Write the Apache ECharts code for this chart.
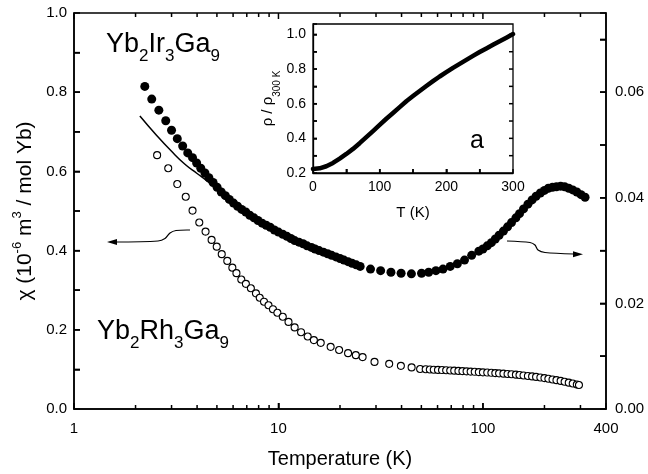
<!DOCTYPE html>
<html><head><meta charset="utf-8">
<script src="https://cdn.jsdelivr.net/npm/echarts@6/dist/echarts.min.js"></script>
<style>html,body{margin:0;padding:0;background:#fff}#c{width:648px;height:474px}</style>
</head><body><div id="c"></div>
<script>
// Yb2Ir3Ga9 (filled circles, right axis)
const irT = [2.22,2.40,2.60,2.81,3.00,3.20,3.40,3.60,
  3.80,3.98,4.17,4.37,4.57,4.79,5.01,5.25,5.50,5.75,6.03,6.31,6.61,6.92,7.24,7.59,7.94,8.32,8.71,9.12,9.55,10.0,10.5,11.0,11.5,12.0,12.6,13.2,13.8,14.5,15.1,15.8,16.6,17.4,18.2,19.1,20.0,20.9,21.9,22.9,24.0,25.1,
  28.2,31.6,35.5,39.8,44.7,50.1,
  54.3,58.9,63.8,69.2,75.0,81.3,88.1,95.5,
  100,105,110,115,120,126,132,138,145,151,158,166,174,182,191,200,209,219,229,240,251,263,275,288,302,316];
const irChi = [0.0611,0.0587,0.0566,0.0546,0.0528,0.0512,0.0498,0.0485,
  0.0476,0.0466,0.0456,0.0447,0.0438,0.0429,0.0420,0.0411,0.0404,0.0397,0.0390,0.0384,0.0378,0.0373,0.0367,0.0362,0.0357,0.0352,0.0348,0.0344,0.0339,0.0335,0.0331,0.0327,0.0323,0.0319,0.0316,0.0313,0.0309,0.0306,0.0303,0.0300,0.0297,0.0294,0.0291,0.0288,0.0285,0.0282,0.0279,0.0276,0.0273,0.0270,
  0.0265,0.0262,0.0259,0.0257,0.0256,0.0257,
  0.0259,0.0262,0.0265,0.0270,0.0275,0.0282,0.0291,0.0299,
  0.0303,0.0309,0.0315,0.0322,0.0329,0.0337,0.0345,0.0353,0.0362,0.0370,0.0379,0.0388,0.0396,0.0403,0.0409,0.0414,0.0418,0.0420,0.0421,0.0422,0.0421,0.0418,0.0415,0.0411,0.0406,0.0401];
// fit line at low T (right axis)
const fitT = [2.1,2.5,3.0,3.5,4.0,4.5,5.2];
const fitChi = [0.0555,0.0521,0.0488,0.0463,0.0446,0.0431,0.0411];
// Yb2Rh3Ga9 (open circles, left axis)
const rhT = [2.55,2.89,3.20,3.52,3.80,4.10,4.40,4.71,4.99,5.28,5.62,5.95,6.23,6.58,6.93,7.33,7.76,8.10,8.50,8.94,9.40,9.88,10.5,11.2,12.0,12.9,13.9,14.9,16.1,18.0,19.8,21.9,23.9,25.8,29.5,34.8,39.7,44.8,49.3,
  52.5,55.0,57.5,60.3,63.1,66.1,69.2,72.4,75.9,79.4,83.2,87.1,91.2,95.5,100,105,110,115,120,126,132,138,145,151,158,166,174,182,191,200,209,219,229,240,251,263,275,288,295];
const rhChi = [0.641,0.608,0.568,0.536,0.501,0.471,0.448,0.427,0.410,0.391,0.374,0.357,0.343,0.327,0.316,0.305,0.292,0.281,0.271,0.262,0.252,0.243,0.233,0.220,0.206,0.194,0.183,0.174,0.167,0.157,0.149,0.141,0.136,0.131,0.119,0.114,0.109,0.105,0.101,
  0.1003,0.0998,0.0993,0.0988,0.0983,0.0978,0.0973,0.0968,0.0962,0.0957,0.0951,0.0945,0.0939,0.0932,0.0926,0.0920,0.0914,0.0907,0.0900,0.0893,0.0885,0.0877,0.0868,0.0859,0.0847,0.0835,0.0823,0.0810,0.0797,0.0780,0.0763,0.0746,0.0728,0.0709,0.0688,0.0666,0.0643,0.0619,0.0606];
// inset: resistivity ratio
const rhoT = [0,10,20,30,40,50,60,70,80,90,100,110,120,130,140,150,160,170,180,190,200,210,220,230,240,250,260,270,280,290,300];
const rhoRatio = [0.223,0.227,0.239,0.258,0.283,0.310,0.339,0.372,0.407,0.442,0.478,0.513,0.546,0.580,0.614,0.644,0.673,0.702,0.730,0.757,0.782,0.807,0.830,0.853,0.876,0.898,0.919,0.940,0.960,0.981,1.002];
// tick values
const xTickLabels = [1,10,100,400];
const xMajorTicks = [1,10,100];
const xMinorTicks = [2,3,4,5,6,7,8,9,20,30,40,50,60,70,80,90,200,300];
const leftTicks = [0.1,0.2,0.3,0.4,0.5,0.6,0.7,0.8,0.9];
const rightTicks = [0.01,0.02,0.03,0.04,0.05,0.06,0.07];
const insXTicks = [50,100,150,200,250];
const insYTicks = [0.3,0.4,0.5,0.6,0.7,0.8,0.9,1.0];

const FONT = 'Liberation Sans, Arial, Helvetica, sans-serif';
const zip = (a,b) => a.map((v,i)=>[v,b[i]]);
function evenLabel(step, digits){
  return v => { const q = v/step; const k = Math.round(q);
    return (Math.abs(q-k)<1e-6 && k%2===0) ? (k*step).toFixed(digits) : ''; };
}
const lbl = {color:'#000', fontSize:15, fontFamily:FONT};
const X_MIN = 1, X_MAX = 400, L_MIN = 0, L_MAX = 1, R_MIN = 0, R_MAX = 0.075;
const IX_MIN = 0, IX_MAX = 300, IY_MIN = 0.2, IY_MAX = 1.06;
const TW = 1.5;
const inTick = (len) => ({show:true, inside:true, length:len, lineStyle:{color:'#000', width:TW}});

const chart = echarts.init(document.getElementById('c'));
chart.setOption({
  animation:false,
  grid:[
    {left:74, top:13, width:532, height:396, show:true, borderColor:'#000', borderWidth:1.5, backgroundColor:'transparent'},
    {left:313, top:24, width:200, height:149, show:true, borderColor:'#000', borderWidth:1.3, backgroundColor:'#fff'}
  ],
  xAxis:[
    {gridIndex:0, type:'log', logBase:10, min:X_MIN, max:X_MAX,
     axisLine:{show:true, lineStyle:{color:'#000', width:1.5}}, splitLine:{show:false},
     axisTick:inTick(6),
     axisLabel:Object.assign({margin:12, customValues:xTickLabels, formatter:v=>String(Math.round(v))}, lbl),
     name:'Temperature (K)', nameLocation:'middle', nameGap:40,
     nameTextStyle:{color:'#000', fontSize:20, fontFamily:FONT}},
    {gridIndex:1, type:'value', min:IX_MIN, max:IX_MAX, interval:50,
     axisLine:{show:true, lineStyle:{color:'#000', width:1.3}}, splitLine:{show:false},
     axisTick:inTick(4),
     axisLabel:Object.assign({margin:7, formatter:evenLabel(50,0)}, lbl, {fontSize:14}),
     name:'T (K)', nameLocation:'middle', nameGap:32,
     nameTextStyle:{color:'#000', fontSize:15, fontFamily:FONT}}
  ],
  yAxis:[
    {gridIndex:0, type:'value', min:L_MIN, max:L_MAX, interval:0.1, position:'left',
     axisLine:{show:true, lineStyle:{color:'#000', width:1.5}}, splitLine:{show:false},
     axisTick:inTick(6),
     axisLabel:Object.assign({margin:7, formatter:evenLabel(0.1,1)}, lbl),
     name:'{n|χ (10}{sup|-6}{n| m}{sup|3}{n| / mol Yb)}', nameLocation:'middle', nameGap:37,
     nameTextStyle:{color:'#000', fontFamily:FONT, fontSize:21,
       rich:{n:{fontSize:21, fontFamily:FONT, color:'#000', lineHeight:24, verticalAlign:'bottom'},
             sup:{fontSize:13, fontFamily:FONT, color:'#000', lineHeight:13, verticalAlign:'top'}}}},
    {gridIndex:0, type:'value', min:R_MIN, max:R_MAX, interval:0.01, position:'right',
     axisLine:{show:true, lineStyle:{color:'#000', width:1.5}}, splitLine:{show:false},
     axisTick:inTick(6),
     axisLabel:Object.assign({margin:9, formatter:evenLabel(0.01,2)}, lbl)},
    {gridIndex:1, type:'value', min:IY_MIN, max:IY_MAX, interval:0.1, position:'left',
     axisLine:{show:true, lineStyle:{color:'#000', width:1.3}}, splitLine:{show:false},
     axisTick:inTick(4),
     axisLabel:Object.assign({margin:7, formatter:evenLabel(0.1,1)}, lbl, {fontSize:14}),
     name:'{n|ρ / ρ}{s|300 K}', nameLocation:'middle', nameGap:28,
     nameTextStyle:{color:'#000', fontFamily:FONT, fontSize:15,
       rich:{n:{fontSize:15, fontFamily:FONT, color:'#000', lineHeight:17, verticalAlign:'top'},
             s:{fontSize:10, fontFamily:FONT, color:'#000', lineHeight:22, verticalAlign:'bottom'}}}}
  ],
  series:[
    {type:'scatter', xAxisIndex:0, yAxisIndex:1, data:zip(irT, irChi), symbol:'circle', symbolSize:9,
     itemStyle:{color:'#000', opacity:1}, z:3},
    {type:'line', xAxisIndex:0, yAxisIndex:1, data:zip(fitT, fitChi), showSymbol:false, smooth:true,
     lineStyle:{color:'#000', width:1.5}, z:2},
    {type:'scatter', xAxisIndex:0, yAxisIndex:0, data:zip(rhT, rhChi), symbol:'circle', symbolSize:7,
     itemStyle:{color:'#fff', borderColor:'#000', borderWidth:1.1, opacity:1}, z:3},
    {type:'line', xAxisIndex:1, yAxisIndex:2, data:zip(rhoT, rhoRatio), showSymbol:false,
     lineStyle:{color:'#000', width:4.5, cap:'round', join:'round'}, z:3}
  ]
});

// inside tick marks: positions obtained from the axes' own scales (convertToPixel)
const ticks = [];
function tick(x1,y1,x2,y2){ ticks.push({type:'line', z:20, silent:true, shape:{x1,y1,x2,y2}, style:{stroke:'#000', lineWidth:TW}}); }
const MAINF = {xAxisIndex:0, yAxisIndex:0}, RIGHTF = {xAxisIndex:0, yAxisIndex:1}, INSF = {xAxisIndex:1, yAxisIndex:2};
function xTickMarks(finder, vals, yLo, yHi, len, both){
  vals.forEach(v=>{
    const b = chart.convertToPixel(finder, [v, yLo]);
    tick(b[0], b[1], b[0], b[1]-len);
    if (both){ const t = chart.convertToPixel(finder, [v, yHi]); tick(t[0], t[1], t[0], t[1]+len); }
  });
}
function yTickMarks(finder, vals, xEdge, dir, len){
  vals.forEach(v=>{ const p = chart.convertToPixel(finder, [xEdge, v]); tick(p[0], p[1], p[0]+dir*len, p[1]); });
}
try {
  xTickMarks(MAINF, xMajorTicks, L_MIN, L_MAX, 6, true);
  xTickMarks(MAINF, xMinorTicks, L_MIN, L_MAX, 4, true);
  yTickMarks(MAINF, leftTicks, X_MIN, 1, 6);
  yTickMarks(RIGHTF, rightTicks, X_MAX, -1, 6);
  xTickMarks(INSF, insXTicks, IY_MIN, IY_MAX, 4, false);
  yTickMarks(INSF, insYTicks, IX_MIN, 1, 4);
  yTickMarks(INSF, insYTicks, IX_MAX, -1, 4);
} catch(e) {}

chart.setOption({
  graphic: ticks.concat([
    {type:'text', left:106, top:31, z:10, style:{
      text:'{n|Yb}{s|2}{n|Ir}{s|3}{n|Ga}{s|9}', fill:'#000', font:'27px '+FONT,
      rich:{n:{fontSize:27, fontFamily:FONT, fill:'#000', lineHeight:27, verticalAlign:'top'},
            s:{fontSize:17, fontFamily:FONT, fill:'#000', lineHeight:34, verticalAlign:'bottom'}}}},
    {type:'text', left:97, top:318, z:10, style:{
      text:'{n|Yb}{s|2}{n|Rh}{s|3}{n|Ga}{s|9}', fill:'#000', font:'27px '+FONT,
      rich:{n:{fontSize:27, fontFamily:FONT, fill:'#000', lineHeight:27, verticalAlign:'top'},
            s:{fontSize:17, fontFamily:FONT, fill:'#000', lineHeight:34, verticalAlign:'bottom'}}}},
    {type:'text', left:470, top:129, z:10, style:{text:'a', fill:'#000', font:'25px '+FONT}},
    {type:'polyline', z:10, shape:{points:[[190,230],[176,230.5],[170,233],[165,238.5],[158,241],[114,242]], smooth:0.3},
     style:{stroke:'#000', lineWidth:1.2, fill:null}},
    {type:'polygon', z:10, shape:{points:[[107,242],[117,239],[117,245]]}, style:{fill:'#000'}},
    {type:'polyline', z:10, shape:{points:[[507,241],[530,242.5],[535,245],[538,250],[545,252.5],[574,254]], smooth:0.3},
     style:{stroke:'#000', lineWidth:1.2, fill:null}},
    {type:'polygon', z:10, shape:{points:[[583,254.3],[573,251.3],[573,257.3]]}, style:{fill:'#000'}}
  ])
});
</script></body></html>
